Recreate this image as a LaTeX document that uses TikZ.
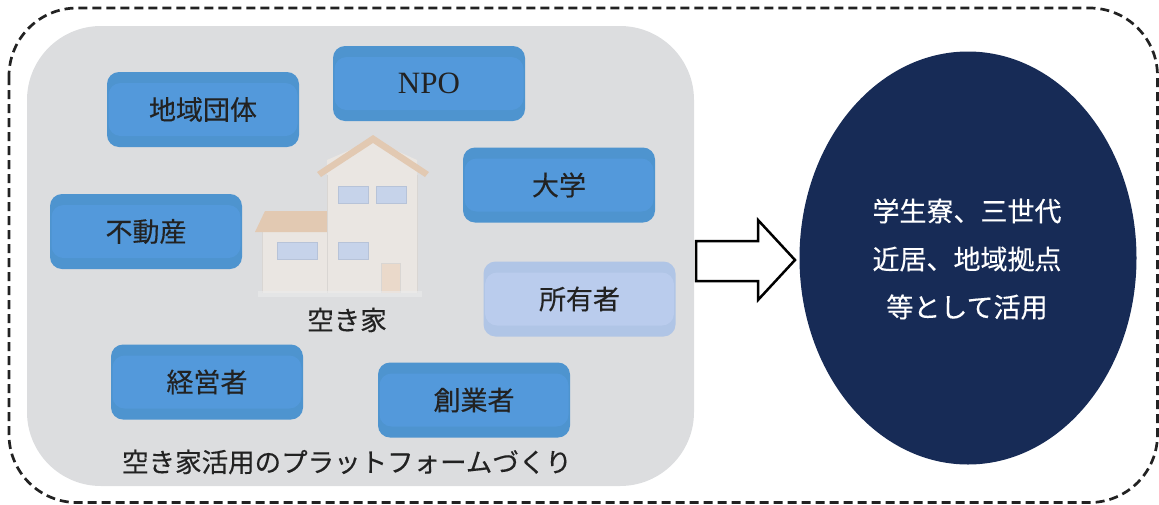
\documentclass[tikz,border=0pt]{standalone}
\usepackage{fontspec}
\usetikzlibrary{shapes.geometric}
\setmainfont{Liberation Serif}
\newfontfamily\jp[FakeBold=0.3]{Noto Sans CJK JP}
\definecolor{panelgray}{HTML}{DCDDDF}
\definecolor{boxband}{HTML}{4E94CF}
\definecolor{boxmid}{HTML}{5399DB}
\definecolor{lightband}{HTML}{B0C5E6}
\definecolor{lightmid}{HTML}{BACCED}
\definecolor{navy}{HTML}{172B56}
\definecolor{inkgray}{HTML}{222222}
\definecolor{roof}{HTML}{E2C9B2}
\definecolor{wall}{HTML}{EAE6E2}
\definecolor{wallline}{HTML}{D9D6D3}
\definecolor{win}{HTML}{C6D3EA}
\definecolor{winline}{HTML}{B7C3D8}
\definecolor{door}{HTML}{EAD9CA}
\tikzset{
  actor/.style={minimum width=192pt, minimum height=75pt, rounded corners=12pt,
    fill=boxband, inner sep=0pt, font=\jp\fontsize{27}{30}\selectfont, text=inkgray,
    path picture={\fill[boxmid] ([xshift=1.5pt,yshift=-11pt]path picture bounding box.north west)
      rectangle ([xshift=-1.5pt,yshift=11pt]path picture bounding box.south east);}},
  owner/.style={actor, fill=lightband,
    path picture={\fill[lightmid] ([xshift=1.5pt,yshift=-11pt]path picture bounding box.north west)
      rectangle ([xshift=-1.5pt,yshift=11pt]path picture bounding box.south east);}},
  label/.style={font=\jp\fontsize{26.5}{30}\selectfont, text=inkgray, inner sep=0pt},
  window/.style={fill=win, draw=winline, line width=0.8pt}
}
\begin{document}
\begin{tikzpicture}[x=1pt,y=-1pt]
\useasboundingbox (0,0) rectangle (1159,504);
% outer dashed frame
\draw[line width=2.7pt, dash pattern=on 9pt off 5pt, draw=inkgray, rounded corners=68pt]
  (9,8) rectangle (1157.5,502.5);
% platform panel
\fill[panelgray, rounded corners=74pt] (27,26) rectangle (694,486);

% house: annex
\fill[wall] (262,230) rectangle (327,293);
\draw[wallline, line width=0.8pt] (262,232) -- (262,293);
\fill[roof] (255,232) -- (265,211) -- (327,211) -- (327,232) -- cycle;
\draw[window] (277,242) rectangle (317,259);
% house: main block
\fill[wall] (327,160) -- (373,140) -- (417,160) -- (417,293) -- (327,293) -- cycle;
\draw[wallline, line width=0.8pt] (327,175) -- (327,293) (417,175) -- (417,293);
\fill[roof] (317,172) -- (373,135) -- (429,172) -- (425,177) -- (373,143) -- (321,177) -- cycle;
\draw[window] (338,186) rectangle (368,203);
\draw[window] (376,186) rectangle (406,203);
\draw[window] (338,242) rectangle (368,259);
\fill[door] (381,263) rectangle (400,293);
\draw[wallline, line width=0.6pt] (381,293) -- (381,263) -- (400,263) -- (400,293);
\fill[panelgray!60!white, opacity=0.6] (258,291) rectangle (422,297);

% actors
\node[actor] (chiiki) at (203,109.5) {地域団体};
\node[actor, font=\fontsize{31}{34}\selectfont] (npo) at (429,83.5) {NPO};
\node[actor] (daigaku) at (559,185) {大学};
\node[actor] (fudosan) at (146,231.5) {不動産};
\node[owner] (shoyu) at (579.5,299) {所有者};
\node[actor] (keiei) at (207,382) {経営者};
\node[actor] (sogyo) at (474,400) {創業者};

\node[label] (akiya) at (347,320) {空き家};
\node[label] (platform) at (347,462) {空き家活用のプラットフォームづくり};

% outcome
\node[ellipse, fill=navy, minimum width=337pt, minimum height=413pt, inner sep=0pt] (result) at (968,258) {};
\node[align=center, text=white, font=\jp\fontsize{27}{48}\selectfont] (resulttext) at (967,259)
  {学生寮、三世代\\近居、地域拠点\\等として活用};

% block arrow
\draw[line width=2.5pt, fill=white, line join=miter] (696,241) -- (758,241) -- (758,220) -- (795,260)
  -- (758,300) -- (758,281) -- (696,281) -- cycle;
\end{tikzpicture}
\end{document}
